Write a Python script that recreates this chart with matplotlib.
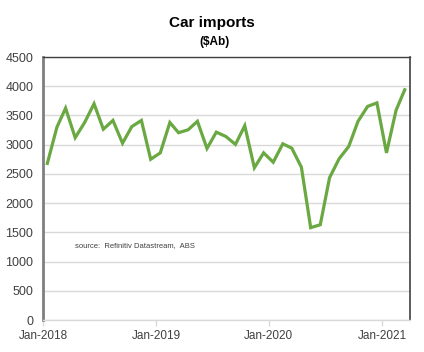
import matplotlib
matplotlib.use("Agg")
import matplotlib.pyplot as plt
import matplotlib.dates as mdates
import pandas as pd

plt.rcParams['font.family'] = ['Liberation Sans', 'DejaVu Sans']

months = pd.period_range("2018-01", "2021-03", freq="M")
values = [2680, 3300, 3625, 3120, 3375, 3700, 3265, 3415, 3025, 3310,
          3415, 2750, 2860, 3380, 3205, 3255, 3400, 2935, 3215, 3140,
          3005, 3325, 2605, 2860, 2700, 3015, 2940, 2615, 1580, 1630,
          2435, 2760, 2970, 3400, 3655, 3715, 2860, 3590, 3940]
yticks = [0, 500, 1000, 1500, 2000, 2500, 3000, 3500, 4000, 4500]
xtick_labels = ["Jan-2018", "Jan-2019", "Jan-2020", "Jan-2021"]

dates = [p.to_timestamp() + pd.Timedelta(days=14) for p in months]

fig = plt.figure(figsize=(4.24, 3.52), dpi=100)
ax = fig.add_axes([0.1014, 0.0909, 0.8656, 0.7471])

ax.plot(dates, values, color="#6aa842", lw=2.3, solid_joinstyle="miter")

ax.set_ylim(0, 4500)
ax.set_yticks(yticks)
ax.set_yticklabels([str(v) for v in yticks])
ax.set_xlim(pd.Timestamp("2018-01-01"), pd.Timestamp("2021-04-01"))
xt = [pd.Timestamp(s.replace("Jan-", "") + "-01-01") for s in xtick_labels]
ax.set_xticks(xt)
ax.set_xticklabels(xtick_labels)

ax.grid(axis="y", color="#d9d9d9", lw=1)
ax.set_axisbelow(True)

ax.tick_params(axis="y", length=0, pad=7, labelsize=9, labelcolor="#404040")
ax.tick_params(axis="x", length=4, width=1, color="#d9d9d9", pad=3,
               labelsize=8.5, labelcolor="#404040")

ax.spines["left"].set_color("#7f7f7f")
ax.spines["left"].set_linewidth(2)
ax.spines["top"].set_color("#404040")
ax.spines["top"].set_linewidth(1)
ax.spines["right"].set_color("#404040")
ax.spines["right"].set_linewidth(1.2)
ax.spines["bottom"].set_color("#d9d9d9")
ax.spines["bottom"].set_linewidth(1)

ax.text(0.087, 0.285, "source:  Refinitiv Datastream,  ABS", transform=ax.transAxes,
        fontsize=5.5, color="#404040", va="center", ha="left")

fig.text(0.5, 0.935, "Car imports", ha="center", va="center",
         fontsize=11, fontweight="bold", color="#000000")
fig.text(0.507, 0.88, "($Ab)", ha="center", va="center",
         fontsize=8.5, fontweight="bold", color="#000000")

fig.savefig("out.png", dpi=100)
